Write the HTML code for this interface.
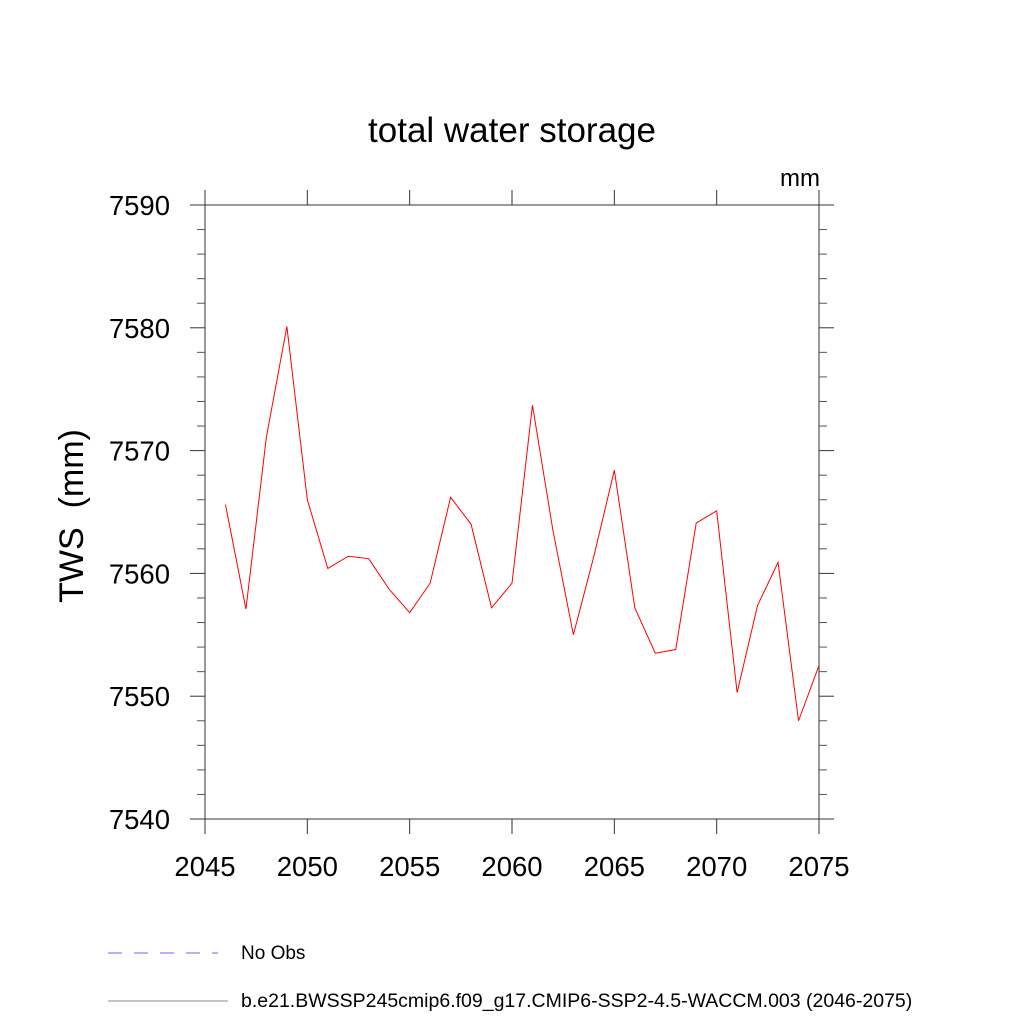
<!DOCTYPE html>
<html><head><meta charset="utf-8"><style>body{margin:0;background:#fff}svg{display:block;font-family:"Liberation Sans",sans-serif}</style></head>
<body>
<svg id="c" width="1024" height="1024">
<text x="512" y="142" font-size="35" text-anchor="middle">total water storage</text>
<text x="820" y="186" font-size="24" text-anchor="end">mm</text>
<text transform="translate(83,516) rotate(-90)" font-size="34" text-anchor="middle" xml:space="preserve">TWS  (mm)</text>
<g id="ax"></g>
<line x1="108" y1="953" x2="218" y2="953" stroke="#6666ff" stroke-dasharray="14,12" stroke-width="1"/>
<text x="241" y="959" font-size="19">No Obs</text>
<line x1="108" y1="1001" x2="228" y2="1001" stroke="#888" stroke-width="1"/>
<text x="241" y="1007" font-size="19.5">b.e21.BWSSP245cmip6.f09_g17.CMIP6-SSP2-4.5-WACCM.003 (2046-2075)</text>
</svg>
<script>
const years=[2046,2047,2048,2049,2050,2051,2052,2053,2054,2055,2056,2057,2058,2059,2060,2061,2062,2063,2064,2065,2066,2067,2068,2069,2070,2071,2072,2073,2074,2075];
const tws=[7565.6,7557.1,7571.1,7580.1,7566.0,7560.4,7561.4,7561.2,7558.7,7556.8,7559.2,7566.2,7564.0,7557.2,7559.2,7573.7,7563.5,7555.0,7561.4,7568.4,7557.2,7553.5,7553.8,7564.1,7565.1,7550.3,7557.4,7560.9,7548.0,7552.5];
const xTicks=[2045,2050,2055,2060,2065,2070,2075];
const yTicks=[7540,7550,7560,7570,7580,7590];
const L=205,R=819,T=205,B=819;
const X=v=>L+(v-2045)/30*(R-L);
const Y=v=>B-(v-7540)/50*(B-T);
const g=document.getElementById('ax');
const NS='http://www.w3.org/2000/svg';
function ln(x1,y1,x2,y2,n,c,w){const e=document.createElementNS(NS,'line');e.setAttribute('x1',x1);e.setAttribute('y1',y1);e.setAttribute('x2',x2);e.setAttribute('y2',y2);e.setAttribute('stroke',c||'#000');e.setAttribute('stroke-width',w||1);


g.appendChild(e);}
function tx(x,y,s,a,n){const e=document.createElementNS(NS,'text');e.setAttribute('x',x);e.setAttribute('y',y);e.setAttribute('font-size','27.5');e.setAttribute('text-anchor',a);e.textContent=s;


g.appendChild(e);}
ln(L,T,R,T,'plot-frame-top','#333');ln(L,B,R,B,'plot-frame-bottom','#333');ln(L,T,L,B,'plot-frame-left','#333');ln(R,T,R,B,'plot-frame-right','#333');
xTicks.forEach(v=>{ln(X(v),B,X(v),B+15,'x-tick','#333');ln(X(v),T,X(v),T-15,'x-tick-top','#333');tx(X(v),876,v,'middle','x-tick-label');});
yTicks.forEach(v=>{ln(L,Y(v),L-15,Y(v),'y-tick','#333');ln(R,Y(v),R+15,Y(v),'y-tick-right','#333');tx(170,Y(v)+10,v,'end','y-tick-label');});
for(let v=7542;v<7590;v+=2){if(v%10==0)continue;ln(L,Y(v),L-8,Y(v),'y-minor-tick','#555');ln(R,Y(v),R+8,Y(v),'y-minor-tick-right','#555');}
const p=document.createElementNS(NS,'polyline');
p.setAttribute('points',years.map((y,i)=>X(y)+','+Y(tws[i])).join(' '));
p.setAttribute('fill','none');p.setAttribute('stroke','#ff0000');p.setAttribute('stroke-width','1');


g.appendChild(p);
</script>
</body></html>
